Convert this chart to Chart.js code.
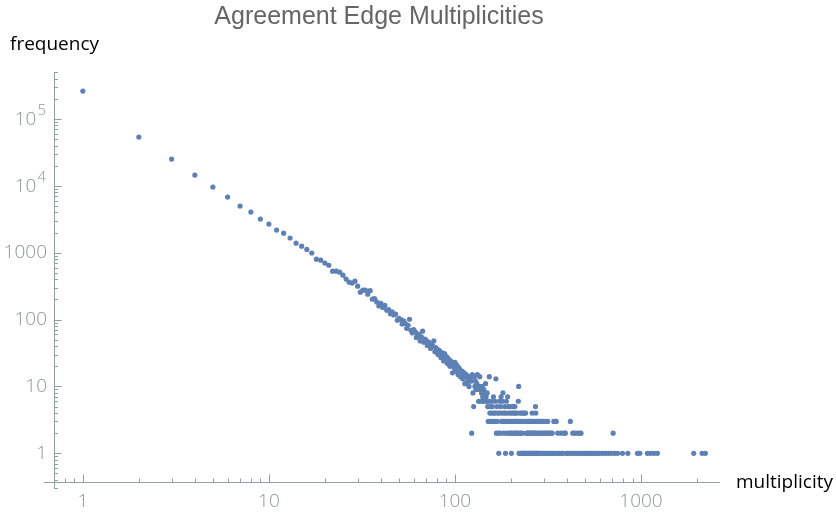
<!DOCTYPE html>
<html>
<head>
<meta charset="utf-8">
<script src="https://cdn.jsdelivr.net/npm/chart.js@4/dist/chart.umd.min.js"></script>
<style>
  html, body { margin: 0; padding: 0; background: #ffffff; }
  #wrap { width: 836px; height: 517px; }
</style>
</head>
<body>
<div id="wrap"><canvas id="c" width="836" height="517"></canvas></div>
<script>
// ---- data ----
const chartTitle = 'Agreement Edge Multiplicities';
const xAxisTitle = 'multiplicity';
const yAxisTitle = 'frequency';

const multiplicity = [
  1,2,3,4,5,6,7,8,9,10,11,12,13,14,15,16,17,18,19,20,
  21,22,23,24,25,26,27,28,29,30,31,32,33,34,35,36,37,38,39,40,
  41,42,43,44,45,46,47,48,49,50,51,52,53,54,55,56,57,58,59,60,
  61,62,63,64,65,66,67,68,69,70,71,72,73,74,75,76,77,78,79,80,
  81,82,83,84,85,86,87,88,89,90,91,92,93,94,95,96,97,98,99,100,
  101,102,103,104,105,106,107,108,109,110,111,112,113,114,115,116,117,118,119,120,
  121,122,123,124,125,126,127,128,129,130,131,132,133,134,135,136,137,138,139,140,
  141,142,143,144,145,146,147,148,149,150,151,152,153,154,155,156,157,158,159,160,
  161,162,163,164,165,166,167,168,169,170,171,172,173,174,175,176,177,178,179,180,
  181,182,183,184,185,186,187,188,189,190,191,192,193,194,195,196,197,198,199,200,
  201,202,203,204,205,206,207,208,209,210,211,212,213,214,215,216,217,218,219,220,
  221,222,223,224,225,226,227,228,229,230,231,232,233,234,235,236,237,238,239,240,
  241,242,243,244,245,246,247,248,249,250,251,252,253,254,255,256,257,258,259,260,
  261,262,263,264,265,266,267,268,269,270,271,272,273,274,275,276,277,278,280,282,
  283,285,287,289,290,292,294,296,298,300,302,304,306,308,311,313,315,318,320,322,
  325,328,331,333,336,340,343,346,350,352,357,360,365,372,375,380,387,392,395,402,
  410,417,420,430,432,440,445,455,458,466,470,476,482,495,505,515,528,540,552,565,
  575,585,600,622,645,668,693,708,722,748,795,850,957,985,1082,1127,1175,1225,1920,2130,
  2218
];

const frequency = [
  262000,53700,25200,14500,9600,6800,4990,4050,3190,2680,2180,1960,1660,1390,1255,1120,990,800,775,700,
  650,530,530,512,462,403,363,351,376,316,257,275,275,240,271,202,206,184,160,175,
  152,163,138,141,122,131,117,121,98,104,101,86,96,88,74,82,101,69,63,71,
  66,54,61,59,48,55,67,46,51,49,41,46,45,37,43,40,48,33,38,36,
  30,35,33,27,32,29,24,31,26,28,22,26,25,20,24,23,16,22,19,23,
  17,21,20,15,19,18,14,16,17,13,15,16,11,14,15,11,12,14,10,13,
  14,12,2,15,8,5,14,10,12,9,11,15,9,6,10,14,9,6,8,10,
  7,6,9,8,6,11,7,6,8,5,3,6,14,4,5,3,6,4,5,3,
  7,4,3,6,4,13,2,5,3,4,2,1,6,4,2,5,7,3,4,6,
  8,3,2,4,5,3,1,4,6,2,3,7,5,4,2,3,5,2,4,3,
  1,2,5,4,3,5,2,4,3,5,2,4,3,2,4,3,2,3,6,10,
  1,2,4,1,3,2,1,4,3,1,2,4,1,1,3,4,1,1,1,4,
  1,2,1,3,2,1,2,3,1,2,1,3,2,1,2,3,1,2,1,4,
  1,3,2,1,2,1,3,1,2,1,5,4,2,1,3,1,2,1,3,1,
  2,3,1,2,3,1,2,3,1,2,1,3,2,1,2,1,3,2,1,2,
  1,2,1,2,1,3,1,3,3,1,2,1,1,2,1,1,2,2,1,1,
  1,3,1,2,1,2,1,2,1,2,1,2,1,1,1,1,1,1,1,1,
  1,1,1,1,1,1,1,2,1,1,1,1,1,1,1,1,1,1,1,1,
  1
];

// axis ticks
const xTickValues = [1, 10, 100, 1000];
const xTickLabels = ['1', '10', '100', '1000'];
const yTickValues = [1, 10, 100, 1000, 10000, 100000];
const yTickLabels = ['1', '10', '100', '1000', '10|4', '10|5'];

// ---- styles ----
const pointColor = '#5e81b5';
const axisColor = '#949f9f';
const tickLabelColor = '#8a9696';
const tickFontFamily = '"Open Sans", "DejaVu Sans", sans-serif';
const tickFontSize = 19;
const tickFontWeight = 300;

const points = multiplicity.map((m, i) => ({ x: m, y: frequency[i] }));

function minorValues(lo, hi) {
  const out = [];
  for (let d = -1; d <= 5; d++) {
    for (let k = 2; k <= 9; k++) {
      const v = k * Math.pow(10, d);
      if (v >= lo && v <= hi) out.push(v);
    }
  }
  return out;
}

const decor = {
  id: 'decor',
  afterDraw(chart) {
    const { ctx, chartArea: a, scales: { x, y } } = chart;
    ctx.save();
    ctx.strokeStyle = axisColor;
    ctx.lineWidth = 1;
    const bx = a.bottom + 0.5;
    const lx = a.left + 0.5;
    // axis extensions beyond the crossing point
    ctx.beginPath();
    ctx.moveTo(x.getPixelForValue(0.618), bx);
    ctx.lineTo(a.left, bx);
    ctx.moveTo(lx, a.bottom);
    ctx.lineTo(lx, y.getPixelForValue(0.292));
    ctx.stroke();
    // x ticks (pointing into the plot)
    ctx.beginPath();
    xTickValues.forEach(v => {
      const p = Math.round(x.getPixelForValue(v)) + 0.5;
      ctx.moveTo(p, a.bottom); ctx.lineTo(p, a.bottom - 7.5);
    });
    minorValues(0.75, 2600).forEach(v => {
      const p = Math.round(x.getPixelForValue(v)) + 0.5;
      ctx.moveTo(p, a.bottom); ctx.lineTo(p, a.bottom - 3.5);
    });
    // y ticks
    yTickValues.forEach(v => {
      const p = Math.round(y.getPixelForValue(v)) + 0.5;
      ctx.moveTo(a.left, p); ctx.lineTo(a.left + 7.5, p);
    });
    minorValues(0.29, 510000).forEach(v => {
      const p = Math.round(y.getPixelForValue(v)) + 0.5;
      ctx.moveTo(a.left, p); ctx.lineTo(a.left + 4, p);
    });
    ctx.stroke();

    // power-of-ten labels with superscripts
    ctx.fillStyle = tickLabelColor;
    yTickLabels.forEach((lab, i) => {
      if (lab.indexOf('|') < 0) return;
      const [base, exp] = lab.split('|');
      const py = y.getPixelForValue(yTickValues[i]);
      const right = a.left - 8;
      ctx.textAlign = 'right';
      ctx.textBaseline = 'middle';
      ctx.font = tickFontWeight + ' 15px ' + tickFontFamily;
      const we = ctx.measureText(exp).width;
      ctx.fillText(exp, right, py - 8);
      ctx.font = tickFontWeight + ' ' + tickFontSize + 'px ' + tickFontFamily;
      ctx.fillText(base, right - we - 1, py + 1);
    });

    // titles
    ctx.fillStyle = '#666666';
    ctx.font = '25px "Liberation Sans Narrow", "Liberation Sans", Arial, sans-serif';
    ctx.textAlign = 'center';
    ctx.textBaseline = 'alphabetic';
    ctx.fillText(chartTitle, 379, 24);

    ctx.fillStyle = '#000000';
    ctx.font = '19px "Open Sans", sans-serif';
    ctx.textAlign = 'left';
    ctx.fillText(yAxisTitle, 10, 50);
    ctx.fillText(xAxisTitle, 736, 488);
    ctx.restore();
  }
};

new Chart(document.getElementById('c'), {
  type: 'scatter',
  data: {
    datasets: [{
      data: points,
      backgroundColor: pointColor,
      borderWidth: 0,
      pointRadius: 2.6,
      pointHoverRadius: 2.6
    }]
  },
  options: {
    responsive: false,
    animation: false,
    devicePixelRatio: 1,
    layout: { padding: { left: 0, top: 72, right: 117, bottom: 0 } },
    plugins: { legend: { display: false }, title: { display: false }, tooltip: { enabled: false } },
    scales: {
      x: {
        type: 'logarithmic',
        position: 'bottom',
        min: 0.735,
        max: 2625,
        grid: { display: false, drawTicks: false },
        border: { display: true, color: axisColor, width: 1 },
        ticks: {
          autoSkip: false, maxRotation: 0, padding: 8,
          color: tickLabelColor,
          font: { family: tickFontFamily, size: tickFontSize, weight: tickFontWeight },
          callback: (v, i) => xTickLabels[i]
        },
        afterBuildTicks: s => { s.ticks = xTickValues.map(v => ({ value: v })); },
        afterFit: s => { s.height = 35; }
      },
      y: {
        type: 'logarithmic',
        position: 'left',
        min: 0.372,
        max: 505000,
        grid: { display: false, drawTicks: false },
        border: { display: true, color: axisColor, width: 1 },
        ticks: {
          autoSkip: false, padding: 7,
          color: tickLabelColor,
          font: { family: tickFontFamily, size: tickFontSize, weight: tickFontWeight },
          callback: (v, i) => (yTickLabels[i].indexOf('|') >= 0 ? '' : yTickLabels[i])
        },
        afterBuildTicks: s => { s.ticks = yTickValues.map(v => ({ value: v })); },
        afterFit: s => { s.width = 54; }
      }
    }
  },
  plugins: [decor]
});
</script>
</body>
</html>
